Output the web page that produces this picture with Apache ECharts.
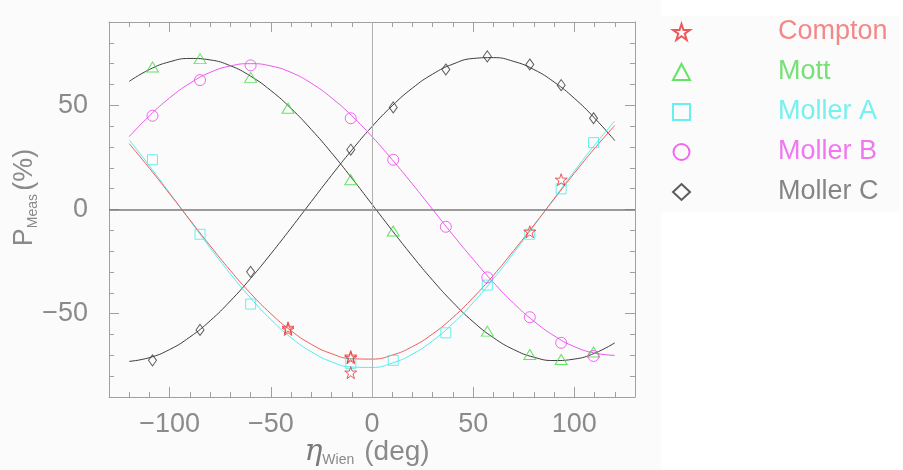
<!DOCTYPE html>
<html>
<head>
<meta charset="utf-8">
<script src="https://cdn.jsdelivr.net/npm/echarts@6/dist/echarts.min.js"></script>
<style>
  html, body { margin: 0; padding: 0; }
  body { background: linear-gradient(to right, #fafbfa 0px, #fafbfa 661px, #ffffff 661px); }
  #chart { width: 903px; height: 470px; }
</style>
</head>
<body>
<div id="chart"></div>
<script>
// ---- Data ----
const xTickValues = [-100, -50, 0, 50, 100];
const xTickLabels = ['\u2212100', '\u221250', '0', '50', '100'];
const yTickValues = [-50, 0, 50];
const yTickLabels = ['\u221250', '0', '50'];

// Fitted curves, read every 10 degrees
const etaFit = [-120,-110,-100,-90,-80,-70,-60,-50,-40,-30,-20,-10,0,10,20,30,40,50,60,70,80,90,100,110,120];
const comptonFit = [31.6,19.8,7.5,-5.0,-17.4,-29.3,-40.3,-50.0,-58.2,-64.7,-69.2,-71.6,-71.8,-69.9,-65.8,-59.7,-51.8,-42.3,-31.6,-19.8,-7.5,5.0,17.4,29.3,40.3];
const mottFit    = [61.5,67.2,70.9,72.5,71.8,69.0,64.0,57.1,48.5,38.4,27.2,15.1,2.5,-10.1,-22.4,-34.0,-44.6,-53.9,-61.5,-67.2,-70.9,-72.5,-71.8,-69.0,-64.0];
const mollerAFit = [33.4,20.9,7.9,-5.3,-18.4,-30.9,-42.5,-52.8,-61.5,-68.3,-73.1,-75.6,-75.8,-73.7,-69.4,-63.0,-54.7,-44.7,-33.3,-20.9,-7.9,5.3,18.4,30.9,42.5];
const mollerBFit = [35.0,45.0,53.6,60.6,65.8,68.9,70.0,68.9,65.8,60.6,53.6,45.0,35.0,23.9,12.2,0.0,-12.2,-23.9,-35.0,-45.0,-53.6,-60.6,-65.8,-68.9,-70.0];
const mollerCFit = [-72.9,-71.1,-67.2,-61.2,-53.4,-43.9,-33.1,-21.3,-8.9,3.8,16.4,28.5,39.8,49.8,58.3,65.0,69.8,72.5,72.9,71.1,67.2,61.2,53.4,43.9,33.1];

// Measurements
const comptonEta = [-41.5, -41.5, -10.5, -10.5, -10.5, 78, 93.5];
const comptonP   = [-56.8, -57.6, -70.6, -71.2, -78.3, -10.7, 14.3];
const mottEta = [-108.5, -85, -60, -41.5, -10.5, 10.5, 57, 78, 93.5, 109.5];
const mottP   = [68.4, 72.4, 63.4, 48.6, 14.3, -10.3, -58.4, -69.6, -72.0, -68.4];
const mollerEta = [-108.5, -85, -60, -10.5, 10.5, 36.5, 57, 78, 93.5, 109.5];
const mollerAP  = [23.9, -11.9, -45.4, -74.0, -72.4, -59.2, -36.3, -11.9, 9.9, 32.1];
const mollerBP  = [45.0, 62.1, 69.2, 43.8, 23.9, -8.3, -32.6, -51.7, -64.0, -70.3];
const mollerCP  = [-72.4, -57.8, -29.9, 28.7, 49.0, 67.2, 73.5, 69.6, 59.7, 43.8];

const seriesNames = ['Compton', 'Mott', 'Moller A', 'Moller B', 'Moller C'];

// ---- Build chart ----
const zip = (a, b) => a.map((v, i) => [v, b[i]]);
const STAR = 'path://M50,0 L61.8,35.4 L100,35.4 L69.1,57.3 L80.9,95.1 L50,72.4 L19.1,95.1 L30.9,57.3 L0,35.4 L38.2,35.4 Z';

const colors = {
  compton: { line: '#f05858', mark: '#ee3030', text: '#f48888' },
  mott:    { line: '#3c3c3c', mark: '#40dd40', text: '#77e077' },
  mollerA: { line: '#4ceeee', mark: '#44eeee', text: '#77f0f0' },
  mollerB: { line: '#ee55ee', mark: '#ee44ee', text: '#f077f0' },
  mollerC: { line: '#3c3c3c', mark: '#333333', text: '#858585' }
};

const axisGray = '#a0a0a0';
const labelGray = '#8a8a8a';
const FONT = 'Liberation Sans';
const gridRect = { left: 109, right: 268, top: 22, bottom: 73, containLabel: false, outerBoundsMode: 'none' };

function lineSeries(name, ys, color) {
  return {
    name: name, type: 'line', xAxisIndex: 0, yAxisIndex: 0,
    data: zip(etaFit, ys), smooth: true, symbol: 'none',
    lineStyle: { color: color, width: 1 }, silent: true, z: 2
  };
}
function pointSeries(name, xs, ys, symbol, size, color, z) {
  return {
    name: name, type: 'scatter', xAxisIndex: 0, yAxisIndex: 0,
    data: zip(xs, ys), symbol: symbol, symbolSize: size,
    itemStyle: { color: 'rgba(0,0,0,0)', borderColor: color, borderWidth: 1 },
    silent: true, z: z
  };
}

const minorX = (pos, labels) => ({
  type: 'value', gridIndex: 0, position: pos, min: -130, max: 130, interval: 10,
  axisLine: { show: true, onZero: false, lineStyle: { color: axisGray, width: 1 } },
  axisTick: { show: true, inside: true, length: 5, lineStyle: { color: axisGray } },
  splitLine: { show: false },
  axisLabel: labels ? {
    show: true, customValues: xTickValues, margin: 14,
    color: labelGray, fontFamily: FONT, fontSize: 27, lineHeight: 27,
    formatter: v => { const i = xTickValues.indexOf(v); return i >= 0 ? xTickLabels[i] : ''; }
  } : { show: false }
});
const majorX = (pos) => ({
  type: 'value', gridIndex: 1, position: pos, min: -130, max: 130,
  axisLine: { show: false, onZero: false },
  axisTick: { show: true, inside: true, length: 10, customValues: xTickValues, lineStyle: { color: axisGray } },
  splitLine: { show: false }, axisLabel: { show: false }
});
const minorY = (pos, labels) => ({
  type: 'value', gridIndex: 0, position: pos, min: -90, max: 90, interval: 10,
  axisLine: { show: true, onZero: false, lineStyle: { color: axisGray, width: 1 } },
  axisTick: { show: true, inside: true, length: 5, lineStyle: { color: axisGray } },
  splitLine: { show: false },
  axisLabel: labels ? {
    show: true, customValues: yTickValues, margin: 21,
    color: labelGray, fontFamily: FONT, fontSize: 27, lineHeight: 27,
    formatter: v => { const i = yTickValues.indexOf(v); return i >= 0 ? yTickLabels[i] : ''; }
  } : { show: false }
});
const majorY = (pos) => ({
  type: 'value', gridIndex: 1, position: pos, min: -90, max: 90,
  axisLine: { show: false, onZero: false },
  axisTick: { show: true, inside: true, length: 10, customValues: yTickValues, lineStyle: { color: axisGray } },
  splitLine: { show: false }, axisLabel: { show: false }
});

const xMain = minorX('bottom', true);
xMain.name = '{eta|\u03b7}{sub|Wien}   {t|(deg)}';
xMain.nameLocation = 'middle';
xMain.nameMoveOverlap = false;
xMain.nameGap = 40;
xMain.nameTextStyle = {
  color: labelGray,
  padding: [0, 10, 0, 0],
  rich: {
    eta: { fontFamily: 'DejaVu Serif', fontStyle: 'italic', fontSize: 30, lineHeight: 30, color: '#7a7a7a' },
    sub: { fontFamily: FONT, fontSize: 14, lineHeight: 10, verticalAlign: 'bottom', color: labelGray },
    t:   { fontFamily: FONT, fontSize: 28, lineHeight: 30, color: labelGray }
  }
};
const yMain = minorY('left', true);
yMain.name = '{p|P}{sub|Meas} {t|(%)}';
yMain.nameLocation = 'middle';
yMain.nameRotate = 90;
yMain.nameMoveOverlap = false;
yMain.nameGap = 69;
yMain.nameTextStyle = {
  color: labelGray,
  padding: [0, 0, 0, 24],
  rich: {
    p:   { fontFamily: FONT, fontSize: 27, lineHeight: 30, color: labelGray },
    sub: { fontFamily: FONT, fontSize: 14, lineHeight: 10, verticalAlign: 'bottom', color: labelGray },
    t:   { fontFamily: FONT, fontSize: 27, lineHeight: 30, color: labelGray }
  }
};

const option = {
  animation: false,
  backgroundColor: 'transparent',
  grid: [Object.assign({}, gridRect), Object.assign({}, gridRect)],
  xAxis: [xMain, minorX('top', false), majorX('bottom'), majorX('top')],
  yAxis: [yMain, minorY('right', false), majorY('left'), majorY('right')],
  legend: {
    data: [
      { name: seriesNames[0], textStyle: { color: colors.compton.text } },
      { name: seriesNames[1], textStyle: { color: colors.mott.text } },
      { name: seriesNames[2], textStyle: { color: colors.mollerA.text } },
      { name: seriesNames[3], textStyle: { color: colors.mollerB.text } },
      { name: seriesNames[4], textStyle: { color: colors.mollerC.text } }
    ],
    orient: 'vertical', left: 661, top: 16,
    backgroundColor: '#fafbfa',
    padding: [2, 12, 6, 11],
    itemWidth: 17, itemHeight: 16, itemGap: 12,
    selectedMode: false,
    textStyle: { fontFamily: FONT, fontSize: 27, lineHeight: 28, padding: [0, 0, 0, 83] }
  },
  series: [
    Object.assign(lineSeries('Mott fit', mottFit, colors.mott.line), {
      markLine: {
        silent: true, symbol: 'none', label: { show: false },
        data: [
          { yAxis: 0, lineStyle: { color: '#7a7a7a', width: 1.5, type: 'solid' } },
          { xAxis: 0, lineStyle: { color: '#b0b0b0', width: 1, type: 'solid' } }
        ]
      }
    }),
    lineSeries('Moller C fit', mollerCFit, colors.mollerC.line),
    lineSeries('Moller B fit', mollerBFit, colors.mollerB.line),
    lineSeries('Moller A fit', mollerAFit, colors.mollerA.line),
    lineSeries('Compton fit', comptonFit, colors.compton.line),
    pointSeries(seriesNames[1], mottEta, mottP, 'triangle', [12, 10], colors.mott.mark, 3),
    pointSeries(seriesNames[2], mollerEta, mollerAP, 'rect', 10, colors.mollerA.mark, 3),
    pointSeries(seriesNames[3], mollerEta, mollerBP, 'circle', 11, colors.mollerB.mark, 3),
    pointSeries(seriesNames[4], mollerEta, mollerCP, 'diamond', [8, 11], colors.mollerC.mark, 3),
    pointSeries(seriesNames[0], comptonEta, comptonP, STAR, 12, colors.compton.mark, 4)
  ]
};

const chart = echarts.init(document.getElementById('chart'), null, { renderer: 'canvas' });
chart.setOption(option);
</script>
</body>
</html>
